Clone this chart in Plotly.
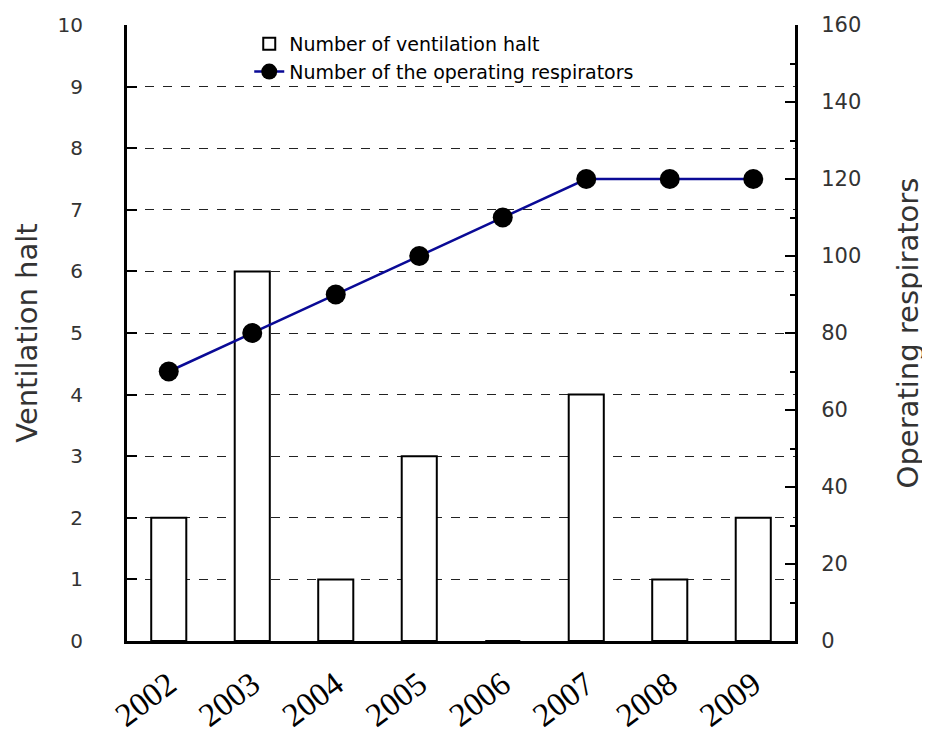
import plotly.graph_objects as go

years = ["2002", "2003", "2004", "2005", "2006", "2007", "2008", "2009"]
ventilation_halt = [2, 6, 1, 3, 0, 4, 1, 2]
operating_respirators = [70, 80, 90, 100, 110, 120, 120, 120]
left_ticks = [0, 1, 2, 3, 4, 5, 6, 7, 8, 9, 10]
right_ticks = [0, 20, 40, 60, 80, 100, 120, 140, 160]

fig = go.Figure()
fig.add_trace(go.Bar(
    x=years, y=ventilation_halt, name="Number of ventilation halt",
    marker=dict(color="white", line=dict(color="black", width=2)),
    width=0.42, yaxis="y",
))
fig.add_trace(go.Scatter(
    x=years, y=operating_respirators, name="Number of the operating respirators",
    mode="lines+markers", line=dict(color="#0a0a96", width=2.5),
    marker=dict(color="black", size=20), yaxis="y2",
))

font_family = "DejaVu Sans, Arial, sans-serif"
fig.update_layout(
    width=922, height=728,
    margin=dict(l=119, r=135, t=17, b=95, autoexpand=False),
    paper_bgcolor="white", plot_bgcolor="white",
    font=dict(family=font_family, color="#333"),
    showlegend=True,
    legend=dict(x=0.183, y=1.0, xanchor="left", yanchor="top",
                bgcolor="rgba(0,0,0,0)", font=dict(size=19, color="black"),
                tracegroupgap=0),
    xaxis=dict(type="category", showline=True, linecolor="black", linewidth=3,
               ticks="", tickangle=-37, automargin=False,
               tickfont=dict(size=33, color="black", family="Liberation Serif, serif"),
               ticklabelstandoff=8,
               showgrid=False, range=[-0.5, 7.5]),
    yaxis=dict(range=[0, 10], tickvals=left_ticks, showline=True, linecolor="black",
               linewidth=3, ticks="inside", ticklen=10, tickwidth=2, tickcolor="black",
               ticklabelstandoff=37, automargin=False,
               tickfont=dict(size=20, color="#333"),
               showgrid=True, gridcolor="#222", griddash="dash", gridwidth=1,
               zeroline=False,
               title=dict(text="Ventilation halt", font=dict(size=29, color="#333"), standoff=12)),
    yaxis2=dict(range=[0, 160], tickvals=right_ticks, overlaying="y", side="right",
                showline=True, linecolor="black", linewidth=3, ticks="inside",
                ticklen=10, tickwidth=2, tickcolor="black",
                ticklabelstandoff=19, automargin=False,
                minor=dict(dtick=10, ticks="inside", ticklen=5, tickcolor="black"),
                tickfont=dict(size=21, color="#333"), showgrid=False, zeroline=False,
                title=dict(text="Operating respirators", font=dict(size=29, color="#333"), standoff=38)),
)

fig.write_html("out.html")
